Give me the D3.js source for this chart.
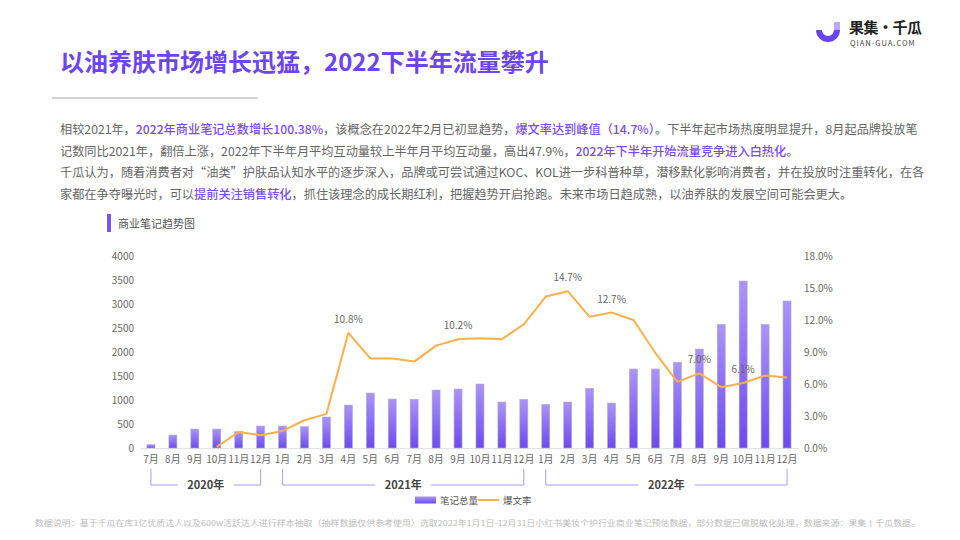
<!DOCTYPE html>
<html lang="zh">
<head>
    <meta charset="UTF-8">
    <title>以油养肤市场增长迅猛</title>
    <script src="https://d3js.org/d3.v7.min.js"></script>
    <style>
        body {
            margin: 0;
            background: #fff;
            font-family: "Noto Sans CJK SC", "Noto Sans", sans-serif;
        }
        svg text {
            font-family: "Noto Sans CJK SC", "Noto Sans", sans-serif;
        }
        .tick text {
            fill: #666;
            font-size: 10px;
        }
    </style>
</head>
<body>
    <svg id="chart" width="960" height="540"></svg>

    <script>
        // data
        const years = ["2020年", "2021年", "2022年"];
        const months = [
            "7月", "8月", "9月", "10月", "11月", "12月",
            "1月", "2月", "3月", "4月", "5月", "6月", "7月", "8月", "9月", "10月", "11月", "12月",
            "1月", "2月", "3月", "4月", "5月", "6月", "7月", "8月", "9月", "10月", "11月", "12月"
        ];
        const monthYear = [
            0, 0, 0, 0, 0, 0,
            1, 1, 1, 1, 1, 1, 1, 1, 1, 1, 1, 1,
            2, 2, 2, 2, 2, 2, 2, 2, 2, 2, 2, 2
        ];
        const noteTotals = [
            70, 270, 395, 395, 340, 458,
            458, 445, 645, 895, 1145, 1020, 1015, 1208, 1229, 1333, 958, 1014,
            910, 958, 1243, 937, 1646, 1646, 1785, 2062, 2576, 3479, 2576, 3062
        ];
        const hitRate = [
            null, null, null, 0.1, 1.5, 1.2,
            1.6, 2.6, 3.2, 10.8, 8.4, 8.4, 8.1, 9.6, 10.2, 10.3, 10.2, 11.6,
            14.2, 14.7, 12.3, 12.7, 12.0, 8.9, 6.2, 7.0, 5.7, 6.1, 6.8, 6.6
        ];
        const labelled = [9, 14, 19, 21, 25, 27];
        const leftTicks = [0, 500, 1000, 1500, 2000, 2500, 3000, 3500, 4000];
        const rightTicks = [0, 3, 6, 9, 12, 15, 18];

        const paragraph = [
            [["相较2021年，", 0], ["2022年商业笔记总数增长100.38%", 1], ["，该概念在2022年2月已初显趋势，", 0], ["爆文率达到峰值（14.7%）", 1], ["。下半年起市场热度明显提升，8月起品牌投放笔", 0]],
            [["记数同比2021年，翻倍上涨，2022年下半年月平均互动量较上半年月平均互动量，高出47.9%，", 0], ["2022年下半年开始流量竞争进入白热化", 1], ["。", 0]],
            [["千瓜认为，随着消费者对“油类”护肤品认知水平的逐步深入，品牌或可尝试通过KOC、KOL进一步科普种草，潜移默化影响消费者，并在投放时注重转化，在各", 0]],
            [["家都在争夺曝光时，可以", 0], ["提前关注销售转化", 1], ["，抓住该理念的成长期红利，把握趋势开启抢跑。未来市场日趋成熟，以油养肤的发展空间可能会更大。", 0]]
        ];

        const purple = "#6c45ee";
        const svg = d3.select("#chart");

        // header
        svg.append("text")
            .attr("x", 60).attr("y", 71)
            .attr("font-size", 24).attr("font-weight", "bold")
            .attr("fill", purple)
            .text("以油养肤市场增长迅猛，2022下半年流量攀升");

        svg.append("line")
            .attr("x1", 52).attr("x2", 258).attr("y1", 98).attr("y2", 98)
            .attr("stroke", "#aaa").attr("stroke-width", 1);

        // logo
        const logo = svg.append("g").attr("transform", "translate(812,18)");
        logo.append("path")
            .attr("d", "M4,12 A12,12 0 0 0 28,12 L22,12 A6,6 0 0 1 10,12 Z")
            .attr("fill", "#6a45ef");
        logo.append("rect").attr("x", 22).attr("y", 4).attr("width", 6).attr("height", 8).attr("fill", "#b9a9f8");
        logo.append("text").attr("x", 37).attr("y", 15)
            .attr("font-size", 15).attr("font-weight", "bold").attr("fill", "#222")
            .attr("letter-spacing", -0.5)
            .text("果集·千瓜");
        logo.append("text").attr("x", 38).attr("y", 28)
            .attr("font-size", 7.5).attr("fill", "#444").attr("letter-spacing", 1)
            .text("QIAN-GUA.COM");

        // paragraph
        paragraph.forEach((line, i) => {
            const t = svg.append("text")
                .attr("x", 60).attr("y", 134 + i * 21.5)
                .attr("font-size", 12.2).attr("fill", "#666");
            line.forEach(([s, hl]) => {
                t.append("tspan")
                    .attr("fill", hl ? "#7b4df5" : "#666")
                    .attr("font-weight", hl ? 500 : 400)
                    .text(s);
            });
        });

        // section heading
        svg.append("rect").attr("x", 107).attr("y", 214).attr("width", 4).attr("height", 18).attr("fill", "#7b55f2");
        svg.append("text").attr("x", 118).attr("y", 228)
            .attr("font-size", 11).attr("fill", "#555").text("商业笔记趋势图");

        // chart
        const keys = months.map((m, i) => i);
        const x = d3.scaleBand().domain(keys).range([140, 798]);
        const yL = d3.scaleLinear().domain([0, 4000]).range([448, 256]);
        const yR = d3.scaleLinear().domain([0, 18]).range([448, 256]);

        const defs = svg.append("defs");
        const grad = defs.append("linearGradient").attr("id", "barGrad")
            .attr("x1", 0).attr("y1", 0).attr("x2", 0).attr("y2", 1);
        grad.append("stop").attr("offset", "0%").attr("stop-color", "#a995f7");
        grad.append("stop").attr("offset", "100%").attr("stop-color", "#6b4bf0");

        const xAxis = svg.append("g")
            .attr("transform", "translate(0,448)")
            .call(d3.axisBottom(x).tickSize(0).tickPadding(8).tickFormat(i => months[i]));
        xAxis.select(".domain").attr("stroke", "#e2e2e2");

        const lAxis = svg.append("g")
            .attr("transform", "translate(140,0)")
            .call(d3.axisLeft(yL).tickValues(leftTicks).tickSize(0).tickPadding(6).tickFormat(d => String(d)));
        lAxis.select(".domain").remove();

        const rAxis = svg.append("g")
            .attr("transform", "translate(798,0)")
            .call(d3.axisRight(yR).tickValues(rightTicks).tickSize(0).tickPadding(6)
                .tickFormat(d => d.toFixed(1) + "%"));
        rAxis.select(".domain").remove();

        const barW = 8;
        svg.append("g").selectAll("rect")
            .data(noteTotals)
            .join("rect")
            .attr("x", (d, i) => x(i) + x.bandwidth() / 2 - barW / 2)
            .attr("y", d => yL(d))
            .attr("width", barW)
            .attr("height", d => yL(0) - yL(d))
            .attr("fill", "url(#barGrad)")
            .attr("stroke", "#b3acc9")
            .attr("stroke-width", 0.6);

        const line = d3.line()
            .defined(d => d !== null)
            .x((d, i) => x(i) + x.bandwidth() / 2)
            .y(d => yR(d));

        svg.append("path")
            .datum(hitRate)
            .attr("d", line)
            .attr("fill", "none")
            .attr("stroke", "#fbb04c")
            .attr("stroke-width", 2)
            .attr("stroke-linejoin", "round");

        svg.append("g").selectAll("text")
            .data(labelled)
            .join("text")
            .attr("x", i => x(i) + x.bandwidth() / 2)
            .attr("y", i => yR(hitRate[i]) - 10)
            .attr("text-anchor", "middle")
            .attr("font-size", 10)
            .attr("fill", "#666")
            .text(i => hitRate[i].toFixed(1) + "%");

        // year brackets
        const bracket = svg.append("g").attr("stroke", "#a99cf2").attr("fill", "none").attr("stroke-width", 1);
        years.forEach((yr, k) => {
            const idx = keys.filter(i => monthYear[i] === k);
            const x0 = x(idx[0]) + x.bandwidth() / 2;
            const x1 = x(idx[idx.length - 1]) + x.bandwidth() / 2;
            const mid = (x0 + x1) / 2;
            const gap = 28;
            bracket.append("path")
                .attr("d", `M${x0},469 V485 H${mid - gap}`);
            bracket.append("path")
                .attr("d", `M${mid + gap},485 H${x1} V469`);
            svg.append("text")
                .attr("x", mid).attr("y", 489)
                .attr("text-anchor", "middle")
                .attr("font-size", 11).attr("font-weight", "bold")
                .attr("fill", "#444")
                .text(yr);
        });

        // legend
        const lg = svg.append("g").attr("transform", "translate(415,500)");
        lg.append("rect").attr("x", 0).attr("y", -3.5).attr("width", 21).attr("height", 7).attr("fill", "url(#barGrad)");
        lg.append("text").attr("x", 25).attr("y", 3.5).attr("font-size", 9.5).attr("fill", "#555").text("笔记总量");
        lg.append("line").attr("x1", 63).attr("x2", 84).attr("y1", 0).attr("y2", 0).attr("stroke", "#fbb04c").attr("stroke-width", 2);
        lg.append("text").attr("x", 88).attr("y", 3.5).attr("font-size", 9.5).attr("fill", "#555").text("爆文率");

        // footer
        svg.append("text")
            .attr("x", 35).attr("y", 526)
            .attr("font-size", 8).attr("fill", "#bbb")
            .attr("textLength", 885).attr("lengthAdjust", "spacingAndGlyphs")
            .text("数据说明：基于千瓜在库1亿优质达人以及600w活跃达人进行样本抽取（抽样数据仅供参考使用）选取2022年1月1日-12月31日小红书美妆个护行业商业笔记预估数据，部分数据已做脱敏化处理，数据来源：果集丨千瓜数据。");
    </script>
</body>
</html>
